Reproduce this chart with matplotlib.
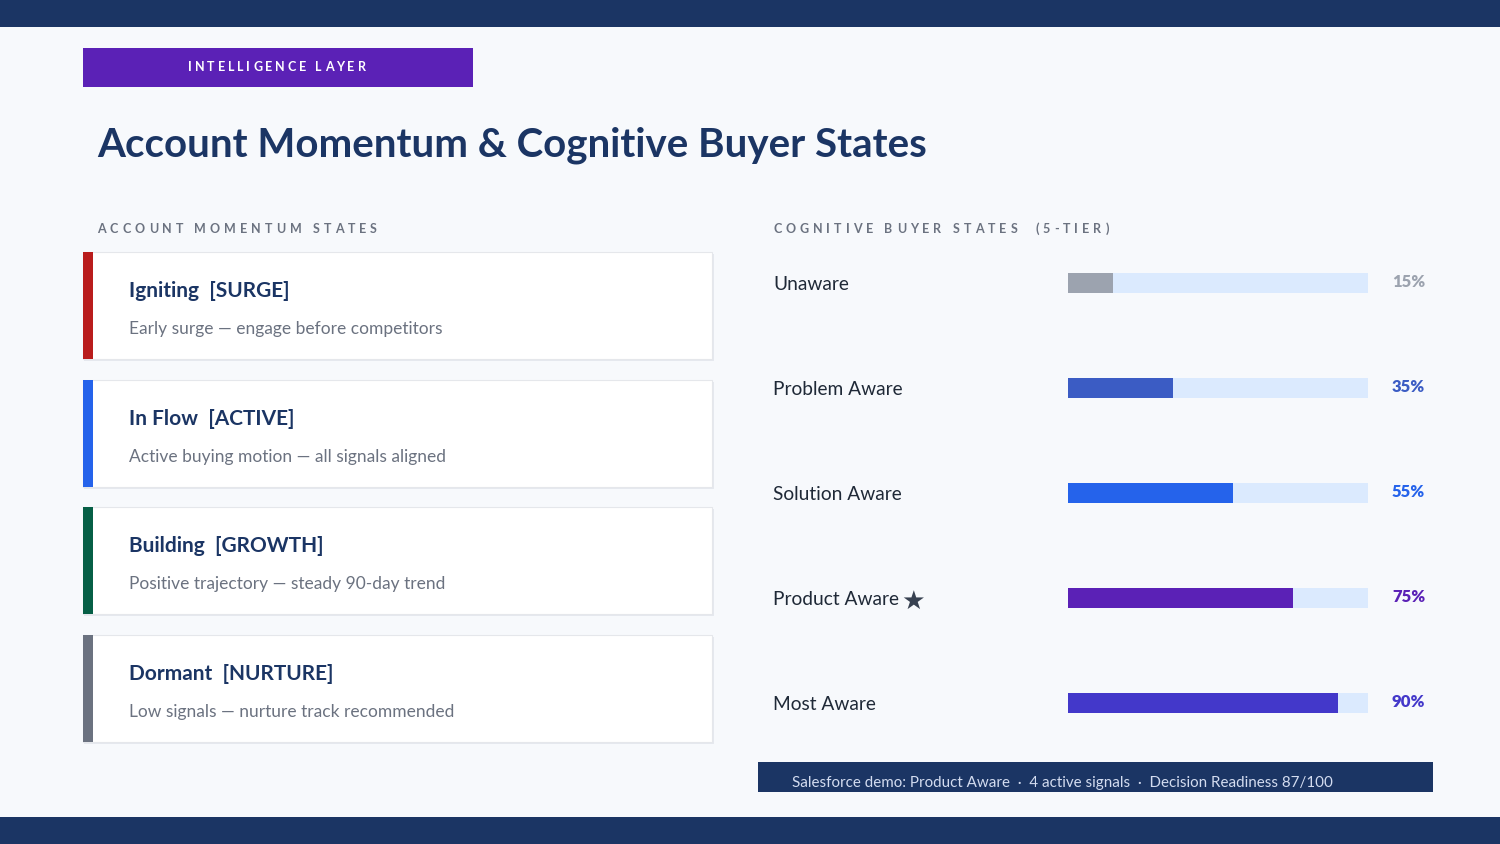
import matplotlib
matplotlib.use('Agg')
import matplotlib.pyplot as plt
from matplotlib.patches import Rectangle
import numpy as np

plt.rcParams['font.family'] = ['Lato', 'DejaVu Sans']

# data
card_titles = ['Igniting  [SURGE]', 'In Flow  [ACTIVE]', 'Building  [GROWTH]', 'Dormant  [NURTURE]']
card_notes = ['Early surge \u2014 engage before competitors',
              'Active buying motion \u2014 all signals aligned',
              'Positive trajectory \u2014 steady 90-day trend',
              'Low signals \u2014 nurture track recommended']
card_colors = ['#B91C1C', '#2563EB', '#065F46', '#6B7280']

states = ['Unaware', 'Problem Aware', 'Solution Aware', 'Product Aware \u2605', 'Most Aware']
pcts = [15, 35, 55, 75, 90]
bar_colors = ['#9CA3AF', '#3B5CC4', '#2563EB', '#5B21B6', '#4338CA']

footer = 'Salesforce demo: Product Aware  \u00b7  4 active signals  \u00b7  Decision Readiness 87/100'

NAVY = '#1B3564'
W, H = 1500, 844

fig = plt.figure(figsize=(15, 8.44), dpi=100)
fig.patch.set_facecolor('#F7F9FC')
ax = fig.add_axes([0, 0, 1, 1])
ax.set_xlim(0, W)
ax.set_ylim(H, 0)
ax.axis('off')

renderer = fig.canvas.get_renderer()

def spaced(x, y, s, track, **kw):
    # draw text letter by letter with extra tracking (pixels)
    inv = ax.transData.inverted()
    for ch in s:
        t = ax.text(x, y, ch, ha='left', va='center', **kw)
        bb = t.get_window_extent(renderer)
        x0 = inv.transform((bb.x0, 0))[0]
        x1 = inv.transform((bb.x1, 0))[0]
        x += (x1 - x0) + track
    return x

# bands
ax.add_patch(Rectangle((0, 0), W, 27, color=NAVY, lw=0))
ax.add_patch(Rectangle((0, 817), W, 27, color=NAVY, lw=0))

# tag
ax.add_patch(Rectangle((83, 48), 390, 39, color='#5B21B6', lw=0))
spaced(188, 67, 'INTELLIGENCE LAYER', 2.95, color='white', fontsize=9, fontweight='bold')

ax.text(97, 145, 'Account Momentum & Cognitive Buyer States', ha='left', va='center',
        fontsize=29, fontweight='bold', color=NAVY)

spaced(97, 229, 'ACCOUNT MOMENTUM STATES', 4.05, color='#6B7280', fontsize=9, fontweight='bold')
spaced(773, 229, 'COGNITIVE BUYER STATES  (5-TIER)', 4.05, color='#6B7280', fontsize=9, fontweight='bold')

# cards
tops = [252, 380, 507, 635]
for top, t, n, c in zip(tops, card_titles, card_notes, card_colors):
    ax.add_patch(Rectangle((84, top + 2), 630, 107, color='#E6E9EF', lw=0))
    ax.add_patch(Rectangle((83, top), 629, 107, facecolor='white', edgecolor='#E5E7EB', lw=0.8))
    ax.add_patch(Rectangle((83, top), 10, 107, color=c, lw=0))
    ax.text(129, top + 39, t, ha='left', va='center', fontsize=15, fontweight='bold', color=NAVY)
    ax.text(129, top + 77, n, ha='left', va='center', fontsize=12.5, color='#6B7280')

# bars
bax = fig.add_axes([1068 / W, (H - 755.5) / H, 300 / W, 525 / H])
bax.set_xlim(0, 100)
bax.set_ylim(4.5, -0.5)
bax.axis('off')
y = np.arange(len(states))
bax.barh(y, [100] * len(states), height=20 / 105, color='#DBEAFE', lw=0)
bax.barh(y, pcts, height=20 / 105, color=bar_colors, lw=0)
for i, (s, p, c) in enumerate(zip(states, pcts, bar_colors)):
    base = s.rstrip(' \u2605')
    t = bax.text(-98.3, i + 0.01, base, ha='left', va='center', fontsize=13.8, color='#1F2937',
                 clip_on=False)
    if s.endswith('\u2605'):
        bb = t.get_window_extent(renderer)
        xs = bax.transData.inverted().transform((bb.x1, 0))[0] + 0.8
        bax.text(xs, i + 0.04, '\u2605', ha='left', va='center', fontsize=19, color='#374151',
                 family='DejaVu Sans', clip_on=False)
    bax.text(108, i - 0.01, f'{p}%', ha='left', va='center', fontsize=12, fontweight='heavy',
             color=c, clip_on=False)

# footer
ax.add_patch(Rectangle((758, 762), 675, 30, color=NAVY, lw=0))
ax.text(792, 783, footer, ha='left', va='center', fontsize=10.9, color='#D3DCF0')

fig.savefig('out.png', dpi=100, facecolor=fig.get_facecolor())
